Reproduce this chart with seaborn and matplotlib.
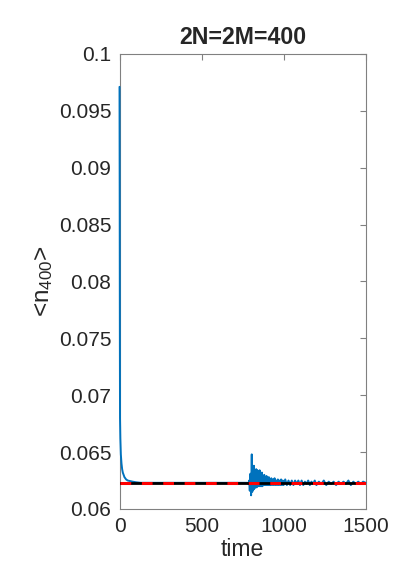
import numpy as np
import pandas as pd
import seaborn as sns
import matplotlib
matplotlib.use('Agg')
import matplotlib.pyplot as plt
from matplotlib.ticker import FormatStrFormatter

# values
decay_time = [0, 1, 2, 3, 5, 8, 12, 16, 20, 25, 30, 40, 50, 65, 80, 100, 130, 200, 400, 600, 780]
decay_value = [0.0971, 0.0880, 0.0760, 0.0680, 0.0662, 0.0648, 0.0640, 0.0635, 0.0632, 0.0630, 0.0628,
               0.0626, 0.0625, 0.06245, 0.0624, 0.06235, 0.0623, 0.0623, 0.0623, 0.0623, 0.0623]

osc_time = [786, 790, 794, 798, 802, 806, 809, 813, 816, 819, 822, 826, 829, 833, 836, 840,
            843, 847, 850, 854, 857, 861, 864, 868, 871, 875, 878, 882, 885, 889, 892, 896,
            899, 903, 906, 910, 913, 917, 920, 925, 930, 935, 940, 945, 950, 955, 960, 965,
            970, 975, 980, 985, 990, 995, 1000, 1010, 1020, 1030, 1040, 1050, 1060, 1070,
            1080, 1090, 1100, 1110, 1120, 1130, 1140, 1150, 1160, 1170, 1180, 1190, 1200,
            1215, 1230, 1245, 1260, 1275, 1290, 1305, 1320, 1335, 1350, 1365, 1380, 1395,
            1410, 1425, 1440, 1455, 1470, 1485, 1500]
osc_value = [0.0622, 0.0625, 0.0616, 0.0631, 0.0612, 0.0648, 0.0615, 0.0630, 0.0617, 0.0638,
             0.0618, 0.0628, 0.0619, 0.0635, 0.0619, 0.0634, 0.0620, 0.0628, 0.0620, 0.0634,
             0.0620, 0.0629, 0.0620, 0.0632, 0.0620, 0.0627, 0.0621, 0.0630, 0.0621, 0.0627,
             0.0621, 0.0629, 0.0621, 0.0626, 0.0621, 0.0628, 0.0621, 0.0626, 0.0621, 0.0627,
             0.0621, 0.0626, 0.0621, 0.0627, 0.0621, 0.0625, 0.0621, 0.0626, 0.0621, 0.0625,
             0.0621, 0.0626, 0.0621, 0.0625, 0.0621, 0.0626, 0.0621, 0.0625, 0.0621, 0.0625,
             0.0621, 0.0625, 0.0622, 0.0625, 0.0621, 0.0625, 0.0621, 0.0624, 0.0622, 0.0625,
             0.0621, 0.0624, 0.0622, 0.0625, 0.0621, 0.0624, 0.0622, 0.0625, 0.0621, 0.0624,
             0.0622, 0.0624, 0.0621, 0.0624, 0.0622, 0.0624, 0.0622, 0.0625, 0.0621, 0.0624,
             0.0622, 0.0624, 0.0622, 0.0624, 0.0623]

ref_time = [0, 1500]
ref_value = [0.0623, 0.0623]

x_ticks = [0, 500, 1000, 1500]
y_ticks = [0.06, 0.065, 0.07, 0.075, 0.08, 0.085, 0.09, 0.095, 0.1]

df = pd.DataFrame({'time': decay_time + osc_time, 'n': decay_value + osc_value})
ref = pd.DataFrame({'time': ref_time, 'n': ref_value})

sns.set_style('white')
plt.rcParams['font.family'] = ['Liberation Sans', 'DejaVu Sans']
plt.rcParams['mathtext.default'] = 'regular'

fig = plt.figure(figsize=(4.15, 5.88), dpi=100)
ax = fig.add_axes([0.288, 0.1344, 0.593, 0.774])

sns.lineplot(data=df, x='time', y='n', ax=ax, color='#0072BD', lw=1.4,
             sort=False, estimator=None, zorder=4, clip_on=False)
sns.lineplot(data=ref, x='time', y='n', ax=ax, color='black', lw=2.0, zorder=5)
sns.lineplot(data=ref, x='time', y='n', ax=ax, color='red', lw=2.2, dashes=False,
             linestyle=(0, (3.5, 3.5)), zorder=6)

ax.set_xlim(0, 1500)
ax.set_ylim(0.06, 0.1)
ax.set_xticks(x_ticks)
ax.set_yticks(y_ticks)
ax.yaxis.set_major_formatter(FormatStrFormatter('%g'))
ax.tick_params(direction='in', length=4, width=0.8, color='#808080', labelsize=15,
               labelcolor='#262626', top=True, right=True, pad=6)
for s in ax.spines.values():
    s.set_color('#808080')
    s.set_linewidth(0.8)

ax.set_title('2N=2M=400', fontsize=16.7, fontweight='bold', pad=7)
ax.set_xlabel('time', fontsize=16.5, color='#262626', labelpad=1)
ax.set_ylabel('<n$_{400}$>', fontsize=17.5, color='#262626', labelpad=3)

fig.savefig('out.png', dpi=100)
